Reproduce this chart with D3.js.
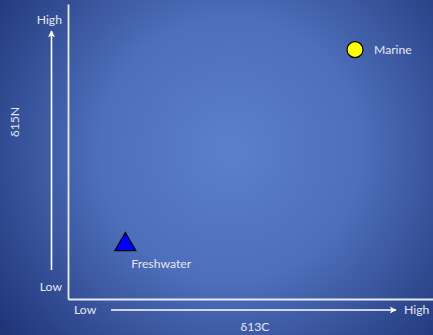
<!DOCTYPE html>
<html>
<head>
<meta charset="utf-8">
<script src="https://cdn.jsdelivr.net/npm/d3@7"></script>
<style>
  html, body { margin: 0; padding: 0; background: #2a4288; }
  svg { display: block; }
  text { font-family: Lato, "Open Sans", sans-serif; fill: #e3e7f2; }
</style>
</head>
<body>
<script>
// Isotope source groups on a qualitative δ13C / δ15N plane (0 = low, 10 = high)
const groups = ["Marine", "Freshwater"];
const carbon = [7.86, 1.56];
const nitrogen = [8.47, 1.86];
const shapes = ["circle", "triangle"];
const fills = ["#ffff00", "#0000ff"];
const xTickLabels = ["Low", "High"];
const yTickLabels = ["Low", "High"];
const xTitle = "δ13C";
const yTitle = "δ15N";

const W = 433, H = 335;
const FS = 12.2;
const svg = d3.select("body").append("svg").attr("width", W).attr("height", H);

const defs = svg.append("defs");
const grad = defs.append("radialGradient")
  .attr("id", "bg").attr("gradientUnits", "userSpaceOnUse")
  .attr("cx", 230).attr("cy", 150).attr("r", 290);
grad.append("stop").attr("offset", "0%").attr("stop-color", "#5c80ca");
grad.append("stop").attr("offset", "45%").attr("stop-color", "#4e6fbb");
grad.append("stop").attr("offset", "100%").attr("stop-color", "#1f3578");
svg.append("rect").attr("width", W).attr("height", H).attr("fill", "url(#bg)");

defs.append("marker").attr("id", "arrow")
  .attr("viewBox", "0 0 10 10").attr("refX", 9).attr("refY", 5)
  .attr("markerWidth", 4.5).attr("markerHeight", 4.5).attr("orient", "auto")
  .append("path").attr("d", "M0,0 L10,5 L0,10 L3,5 Z").attr("fill", "#ffffff");

const x = d3.scaleLinear().domain([0, 10]).range([68.5, 433]);
const y = d3.scaleLinear().domain([0, 10]).range([299.5, 4.5]);

// plot frame: left and bottom axis lines
svg.append("line").attr("x1", x(0)).attr("x2", x(0)).attr("y1", y(10)).attr("y2", y(0))
  .attr("stroke", "#e8ebf4").attr("stroke-width", 1.8);
svg.append("line").attr("x1", x(0)).attr("x2", x(10)).attr("y1", y(0)).attr("y2", y(0))
  .attr("stroke", "#e8ebf4").attr("stroke-width", 1.8);

// direction arrows with low/high labels
const xArrow = d3.scaleLinear().domain([0, 1]).range([111, 396]);
const yArrow = d3.scaleLinear().domain([0, 1]).range([270, 31]);
svg.append("line").attr("x1", xArrow(0)).attr("x2", xArrow(1)).attr("y1", 310).attr("y2", 310)
  .attr("stroke", "#ffffff").attr("stroke-width", 1.6).attr("marker-end", "url(#arrow)");
svg.append("line").attr("x1", 51.5).attr("x2", 51.5).attr("y1", yArrow(0)).attr("y2", yArrow(1))
  .attr("stroke", "#ffffff").attr("stroke-width", 1.6).attr("marker-end", "url(#arrow)");

svg.append("text").attr("x", 74).attr("y", 314).attr("font-size", FS).text(xTickLabels[0]);
svg.append("text").attr("x", 404).attr("y", 314).attr("font-size", FS).text(xTickLabels[1]);
svg.append("text").attr("x", 62).attr("y", 291).attr("text-anchor", "end").attr("font-size", FS).text(yTickLabels[0]);
svg.append("text").attr("x", 62).attr("y", 24).attr("text-anchor", "end").attr("font-size", FS).text(yTickLabels[1]);

svg.append("text").attr("x", 255).attr("y", 331).attr("text-anchor", "middle").attr("font-size", FS).text(xTitle);
svg.append("text").attr("transform", "translate(19,122) rotate(-90)")
  .attr("text-anchor", "middle").attr("font-size", FS).text(yTitle);

// group markers
const sym = { circle: d3.symbolCircle, triangle: d3.symbolTriangle };
const sizes = { circle: 200, triangle: 190 };
const pts = groups.map((g, i) => ({ g, cx: carbon[i], ny: nitrogen[i], shape: shapes[i], fill: fills[i] }));

const node = svg.selectAll("g.pt").data(pts).join("g").attr("class", "pt")
  .attr("transform", d => `translate(${x(d.cx)},${y(d.ny)})`);
node.append("path")
  .attr("d", d => d3.symbol().type(sym[d.shape]).size(sizes[d.shape])())
  .attr("fill", d => d.fill).attr("stroke", "#000000").attr("stroke-width", 1.2);
node.append("text")
  .attr("x", d => d.shape === "circle" ? 19 : 6)
  .attr("y", d => d.shape === "circle" ? 4 : 23)
  .attr("font-size", FS)
  .text(d => d.g);
</script>
</body>
</html>
